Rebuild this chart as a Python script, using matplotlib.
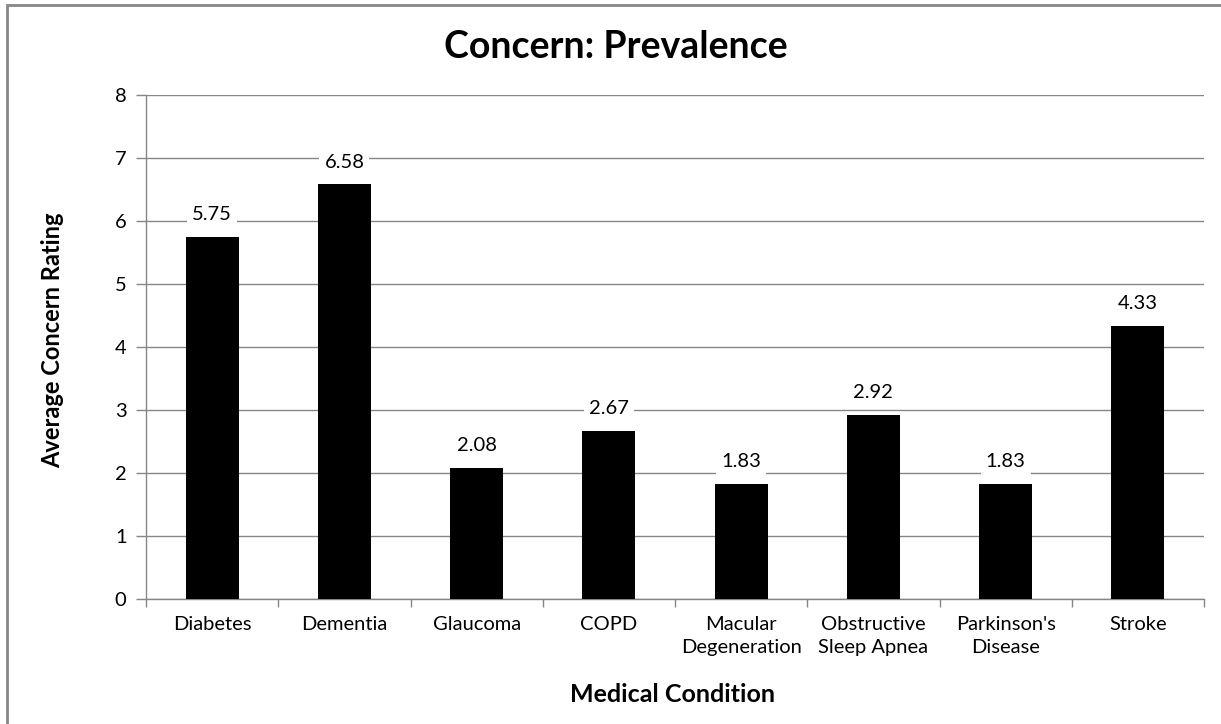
import matplotlib
matplotlib.use("Agg")
import matplotlib.pyplot as plt
from matplotlib.patches import Rectangle

conditions = ["Diabetes", "Dementia", "Glaucoma", "COPD", "Macular\nDegeneration",
              "Obstructive\nSleep Apnea", "Parkinson's\nDisease", "Stroke"]
ratings = [5.75, 6.58, 2.08, 2.67, 1.83, 2.92, 1.83, 4.33]
y_ticks = [0, 1, 2, 3, 4, 5, 6, 7, 8]

W, H = 1221, 724
fig = plt.figure(figsize=(W / 100, H / 100), dpi=100)
plt.rcParams['font.family'] = ['Lato', 'DejaVu Sans']

# outer chart frame
fig.patches.append(Rectangle((7 / W, -0.1), 1.2, (H - 5) / H + 0.1,
                             transform=fig.transFigure, fill=False,
                             edgecolor="#878787", linewidth=2))

left, right, top, bottom = 146, 1204, 95, 599
ax = fig.add_axes([left / W, 1 - bottom / H, (right - left) / W, (bottom - top) / H])

x = list(range(len(conditions)))
ax.bar(x, ratings, width=0.4, color="black", zorder=3)
ax.set_xlim(-0.5, len(conditions) - 0.5)
ax.set_ylim(0, 8)
ax.set_yticks(y_ticks)
ax.set_yticklabels([str(t) for t in y_ticks], fontsize=14.5)
ax.yaxis.grid(True, color="#868686", linewidth=1, zorder=0)
ax.set_axisbelow(True)

ax.set_xticks(x)
ax.set_xticklabels(conditions, fontsize=14.5, linespacing=1.45)
ax.set_xticks([i - 0.5 for i in range(len(conditions) + 1)], minor=True)
ax.tick_params(axis="x", which="major", length=0, pad=12)
ax.tick_params(axis="x", which="minor", length=6, color="#868686", width=1)
ax.tick_params(axis="y", length=7, color="#868686", width=1, pad=7)

for side in ["top", "right"]:
    ax.spines[side].set_visible(False)
for side in ["left", "bottom"]:
    ax.spines[side].set_color("#868686")
    ax.spines[side].set_linewidth(1)

for xi, v in zip(x, ratings):
    ax.annotate(f"{v:.2f}", (xi, v), xytext=(0, 16), textcoords="offset points",
                ha="center", va="center", fontsize=14.5, zorder=4,
                bbox=dict(boxstyle="square,pad=0.25", facecolor="white", edgecolor="none"))

fig.text(616 / W, 1 - 47 / H, "Concern: Prevalence", ha="center", va="center",
         fontsize=27, fontweight="bold")
fig.text(53 / W, 1 - 340 / H, "Average Concern Rating", ha="center", va="center",
         rotation=90, fontsize=17, fontweight="bold")
fig.text(672 / W, 1 - 695 / H, "Medical Condition", ha="center", va="center",
         fontsize=18, fontweight="bold")

fig.savefig("out.png", dpi=100)
